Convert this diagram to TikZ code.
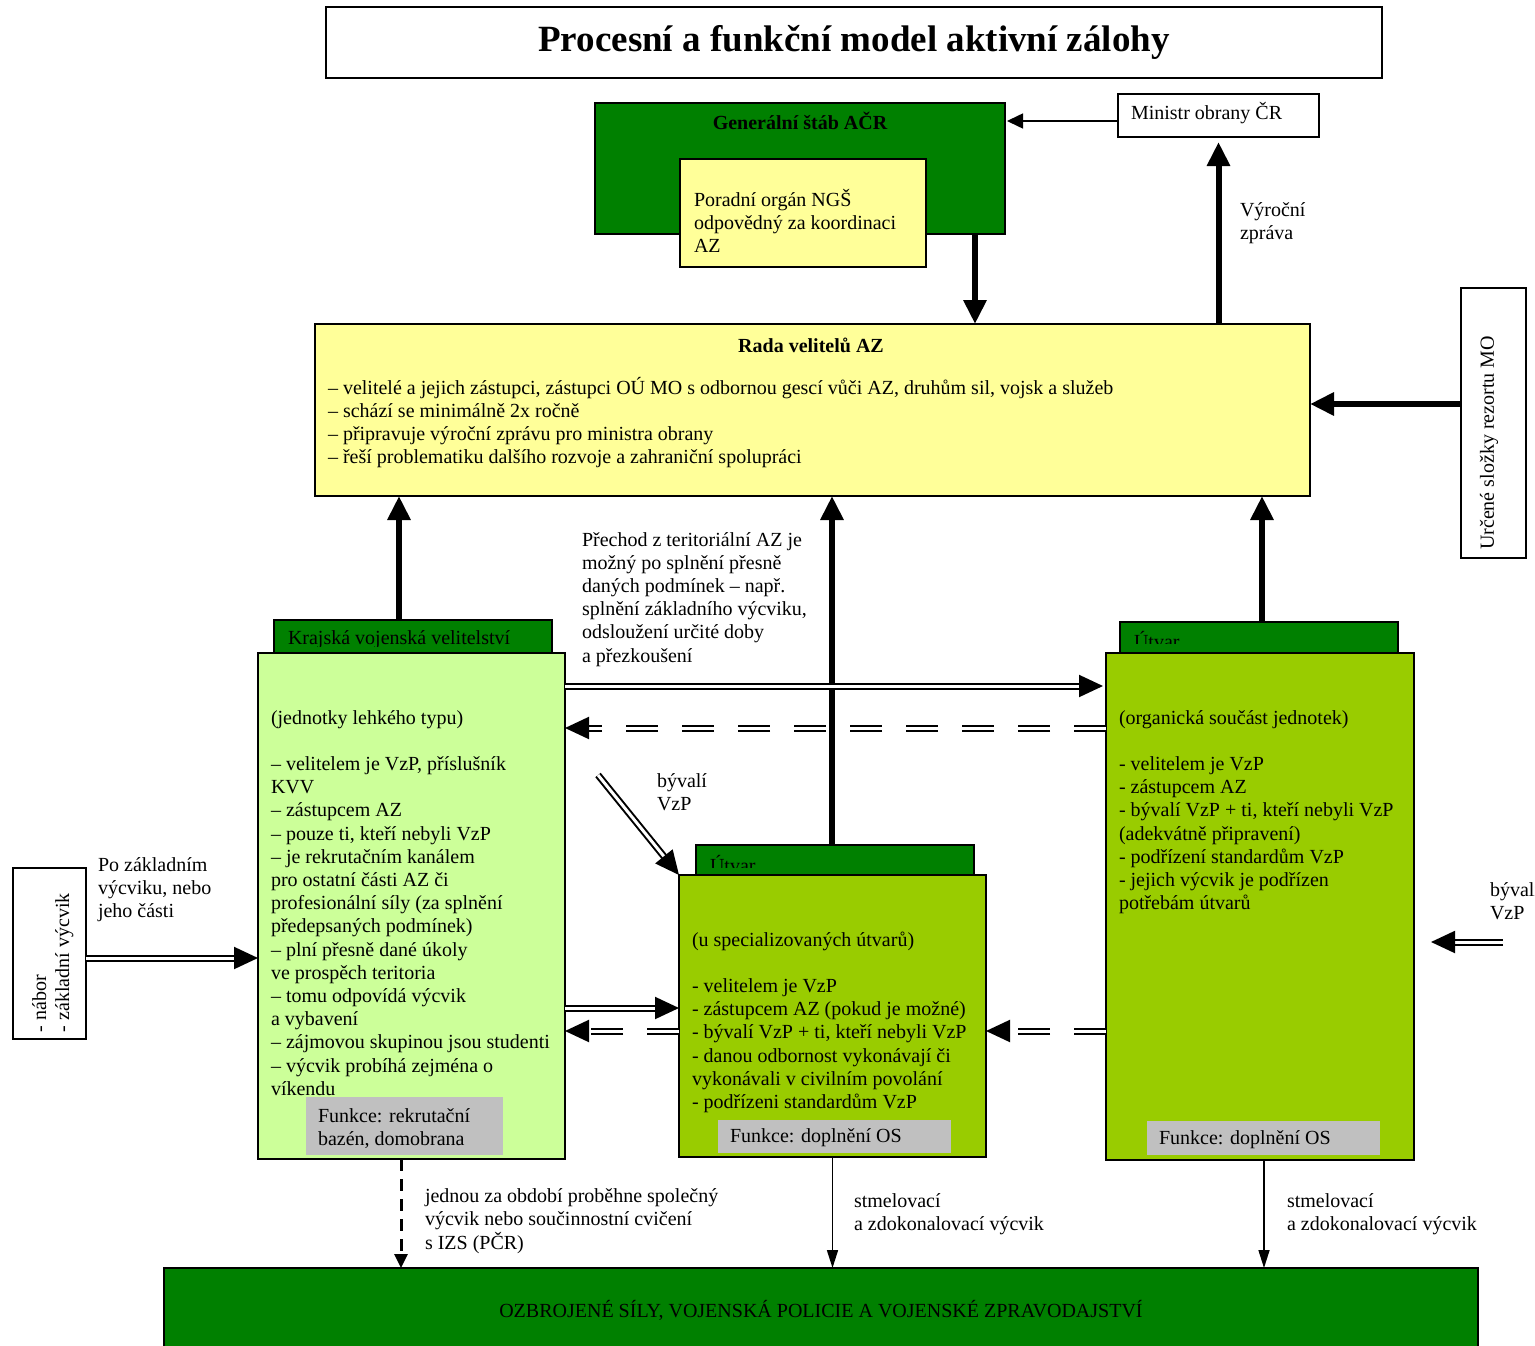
\documentclass[tikz,border=0pt]{standalone}
\usepackage{fontspec}
\setmainfont{Liberation Serif}
\usetikzlibrary{arrows.meta}
\definecolor{dkgreen}{RGB}{0,128,0}
\definecolor{lyellow}{RGB}{255,255,153}
\definecolor{lgreen}{RGB}{204,255,153}
\definecolor{ygreen}{RGB}{153,204,0}
\definecolor{fgray}{RGB}{192,192,192}
\newcommand{\mylines}[1]{\begin{tabular}[t]{@{}l@{}}#1\end{tabular}}
\newcommand{\bodyfont}{\fontsize{20}{23.2}\selectfont}
\tikzset{
  box/.style={draw=black, line width=2pt, inner sep=0pt, outer sep=0pt, anchor=north west},
  txt/.style={anchor=base west, inner sep=0pt, outer sep=0pt, font=\bodyfont},
  big/.style={line width=6pt, -{Triangle[length=24pt,width=22pt]}},
  dbl/.style={double=white, double distance=3pt, line width=2pt, -{Triangle[length=24pt,width=22pt]}},
  dbldash/.style={dbl, dash pattern=on 32pt off 24pt},
  thinarr/.style={line width=1.6pt, -{Triangle[length=18pt,width=11pt]}},
  minarr/.style={line width=1.6pt, -{Triangle[length=16pt,width=15pt]}},
  dasharr/.style={line width=3pt, dash pattern=on 12pt off 8pt, -{Triangle[length=14pt,width=13pt]}}
}
\begin{document}
\begin{tikzpicture}[x=1pt,y=-1pt]
\useasboundingbox (0,0) rectangle (1535,1346);
\clip (0,0) rectangle (1535,1346);

% title
\node[box, fill=white, minimum width=1056pt, minimum height=71pt] (title) at (326,7) {};
\node[font=\fontsize{37}{42}\selectfont\bfseries] (titlet) at (title.center) {Procesní a funkční model aktivní zálohy};

% General staff
\node[box, fill=dkgreen, minimum width=410pt, minimum height=131pt] (gs) at (595,103) {};
\node[font=\bodyfont\bfseries, anchor=base, inner sep=0pt] (gst) at (800,129) {Generální štáb AČR};
\node[box, fill=lyellow, minimum width=246pt, minimum height=108pt] (por) at (680,159) {};
\node[txt] (port) at (694,206) {\mylines{Poradní orgán NGŠ\\odpovědný za koordinaci\\AZ}};

% Minister
\node[box, fill=white, minimum width=201pt, minimum height=43pt] (min) at (1118,94) {};
\node[txt] (mint) at (1131,119) {Ministr obrany ČR};

% Rada
\node[box, fill=lyellow, minimum width=995pt, minimum height=172pt] (rada) at (315,324) {};
\node[font=\bodyfont\bfseries, anchor=base, inner sep=0pt] (radat) at (811,352) {Rada velitelů AZ};
\node[txt] (radal) at (328,394) {\mylines{– velitelé a jejich zástupci, zástupci OÚ MO s odbornou gescí vůči AZ, druhům sil, vojsk a služeb\\– schází se minimálně 2x ročně\\– připravuje výroční zprávu pro ministra obrany\\– řeší problematiku dalšího rozvoje a zahraniční spolupráci}};

% Urcene slozky
\node[box, fill=white, minimum width=65pt, minimum height=270pt] (urc) at (1461,288) {};
\node[font=\bodyfont, rotate=90, inner sep=0pt] (urct) at (1489,443) {Určené složky rezortu MO};

% Vyrocni zprava
\node[txt] (vyr) at (1240,216) {\mylines{Výroční\\zpráva}};

% KVV
\node[box, fill=dkgreen, minimum width=278pt, minimum height=33pt] (kvvh) at (274,620) {};
\begin{scope}
\clip (274,620) rectangle (552,646);
\node[txt] (kvvht) at (288,644) {Krajská vojenská velitelství};
\end{scope}
\node[box, fill=lgreen, minimum width=307pt, minimum height=506pt] (kvv) at (258,653) {};
\node[txt] (kvvt) at (271,724) {\mylines{(jednotky lehkého typu)\\ \\– velitelem je VzP, příslušník\\KVV\\– zástupcem AZ\\– pouze ti, kteří nebyli VzP\\– je rekrutačním kanálem\\pro ostatní části AZ či\\profesionální síly (za splnění\\předepsaných podmínek)\\– plní přesně dané úkoly\\ve prospěch teritoria\\– tomu odpovídá výcvik\\a vybavení\\– zájmovou skupinou jsou studenti\\– výcvik probíhá zejména o\\víkendu}};
\node[anchor=north west, fill=fgray, minimum width=197pt, minimum height=58pt, inner sep=0pt] (kvvf) at (306,1097) {};
\node[txt] (kvvft) at (318,1122) {\mylines{Funkce: rekrutační\\bazén, domobrana}};

% Utvar middle
\node[box, fill=dkgreen, minimum width=278pt, minimum height=30pt] (uh2) at (696,845) {};
\begin{scope}
\clip (696,845) rectangle (974,867);
\node[txt] (uh2t) at (710,872) {Útvar};
\end{scope}
\node[box, fill=ygreen, minimum width=307pt, minimum height=282pt] (ut2) at (679,875) {};
\node[txt] (ut2t) at (692,946) {\mylines{(u specializovaných útvarů)\\ \\- velitelem je VzP\\- zástupcem AZ (pokud je možné)\\- bývalí VzP + ti, kteří nebyli VzP\\- danou odbornost vykonávají či\\vykonávali v civilním povolání\\- podřízeni standardům VzP}};
\node[anchor=north west, fill=fgray, minimum width=233pt, minimum height=33pt, inner sep=0pt] (ut2f) at (718,1120) {};
\node[txt] (ut2ft) at (730,1142) {Funkce: doplnění OS};

% Utvar right
\node[box, fill=dkgreen, minimum width=278pt, minimum height=31pt] (uh3) at (1120,622) {};
\begin{scope}
\clip (1120,622) rectangle (1398,643);
\node[txt] (uh3t) at (1134,648) {Útvar};
\end{scope}
\node[box, fill=ygreen, minimum width=308pt, minimum height=507pt] (ut3) at (1106,653) {};
\node[txt] (ut3t) at (1119,724) {\mylines{(organická součást jednotek)\\ \\- velitelem je VzP\\- zástupcem AZ\\- bývalí VzP + ti, kteří nebyli VzP\\(adekvátně připravení)\\- podřízení standardům VzP\\- jejich výcvik je podřízen\\potřebám útvarů}};
\node[anchor=north west, fill=fgray, minimum width=233pt, minimum height=34pt, inner sep=0pt] (ut3f) at (1147,1121) {};
\node[txt] (ut3ft) at (1159,1144) {Funkce: doplnění OS};

% left box
\node[box, fill=white, minimum width=73pt, minimum height=171pt] (lb) at (13,868) {};
\node[txt, rotate=90] (lbt) at (46,1032) {\mylines{- nábor\\- základní výcvik}};

% bottom box
\node[box, fill=dkgreen, minimum width=1314pt, minimum height=110pt] (ozb) at (164,1268) {};
\node[font=\bodyfont, inner sep=0pt] (ozbt) at (821,1310) {OZBROJENÉ SÍLY, VOJENSKÁ POLICIE A VOJENSKÉ ZPRAVODAJSTVÍ};

% labels
\node[txt] (prech) at (582,546) {\mylines{Přechod z teritoriální AZ je\\možný po splnění přesně\\daných podmínek – např.\\splnění základního výcviku,\\odsloužení určité doby\\a přezkoušení}};
\node[txt] (byv1) at (657,787) {\mylines{bývalí\\VzP}};
\node[txt] (pozakl) at (98,871) {\mylines{Po základním\\výcviku, nebo\\jeho části}};
\node[txt] (byv2) at (1490,896) {\mylines{bývalí\\VzP}};
\node[txt] (jednou) at (425,1202) {\mylines{jednou za období proběhne společný\\výcvik nebo součinnostní cvičení\\s IZS (PČR)}};
\node[txt] (stm1) at (854,1207) {\mylines{stmelovací\\a zdokonalovací výcvik}};
\node[txt] (stm2) at (1287,1207) {\mylines{stmelovací\\a zdokonalovací výcvik}};

% connectors
\draw[minarr] ([yshift=-5.5pt]min.west) -- ([yshift=-5.5pt,xshift=2pt]min.west -| gs.east);
\draw[big] ([xshift=175pt]gs.south) -- ([xshift=175pt]gs.south |- rada.north);
\draw[big] (min.south |- rada.north) -- ([yshift=-5pt]min.south);
\draw[big] ([yshift=19pt]urc.west) -- ([yshift=19pt]urc.west -| rada.east);
\draw[big] ([xshift=-14pt]kvvh.north) -- ([xshift=-14pt]kvvh.north |- rada.south);
\draw[big] ([xshift=-3pt]uh2.north) -- ([xshift=-3pt]uh2.north |- rada.south);
\draw[big] ([xshift=3pt]uh3.north) -- ([xshift=3pt]uh3.north |- rada.south);

\draw[dbl] ([yshift=220pt]kvv.east) -- ([yshift=220pt,xshift=-3pt]kvv.east -| ut3.west);
\draw[dbldash] ([yshift=178pt]kvv.east -| ut3.west) -- ([yshift=178pt]kvv.east);
\coordinate (dstart) at (598,775);
\draw[dbl] (dstart) -- (ut2.north west);
\draw[dbl] ([yshift=-4.5pt]lb.east) -- ([yshift=-4.5pt]lb.east -| kvv.west);
\draw[dbl] ([yshift=8pt]ut2.west -| kvv.east) -- ([yshift=8pt]ut2.west);
\draw[dbldash] ([yshift=-15pt]ut2.west) -- ([yshift=-15pt]ut2.west -| kvv.east);
\draw[dbldash] ([yshift=-15pt]ut2.east -| ut3.west) -- ([yshift=-15pt]ut2.east);
\coordinate (rstart) at (1503,942);
\draw[dbl] (rstart) -- ([xshift=17pt]rstart -| ut3.east);

\draw[dasharr] ([xshift=-10.5pt]kvv.south) -- ([xshift=-10.5pt]kvv.south |- ozb.north);
\draw[thinarr] (ut2.south) -- (ut2.south |- ozb.north);
\draw[thinarr] ([xshift=4pt]ut3.south) -- ([xshift=4pt]ut3.south |- ozb.north);
\end{tikzpicture}
\end{document}
